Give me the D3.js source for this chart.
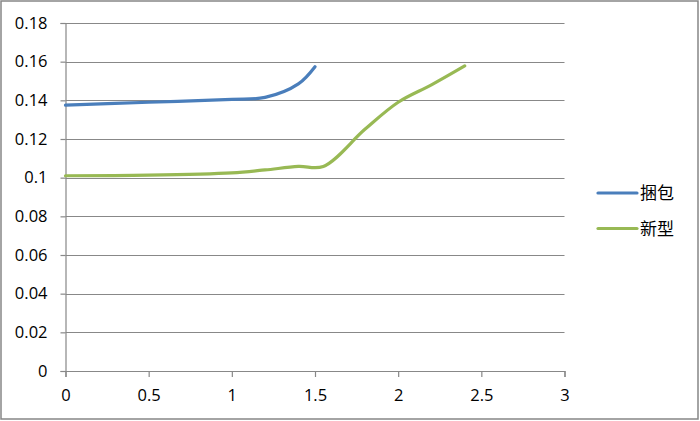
<!DOCTYPE html>
<html><head><meta charset="utf-8">
<script src="https://cdn.jsdelivr.net/npm/d3@7"></script>
<style>body{margin:0;background:#fff}svg{display:block}</style>
</head><body>
<svg id="c" width="700" height="421"></svg>
<script>
const seriesNames = ["捆包", "新型"];
const seriesColors = ["#4A7EBB", "#98B954"];
const x1 = [0, 0.5, 1.0, 1.2, 1.4, 1.5];
const y1 = [0.1375, 0.1390, 0.1405, 0.1415, 0.1485, 0.1574];
const x2 = [0, 0.5, 1.0, 1.2, 1.4, 1.55, 1.8, 2.0, 2.2, 2.4];
const y2 = [0.1010, 0.1013, 0.1025, 0.1040, 0.1058, 0.1058, 0.1250, 0.1390, 0.1480, 0.1578];
const xTicks = [0, 0.5, 1, 1.5, 2, 2.5, 3];
const yTicks = [0, 0.02, 0.04, 0.06, 0.08, 0.1, 0.12, 0.14, 0.16, 0.18];

const svg = d3.select("#c");
const font = "'Open Sans', 'Noto Sans', sans-serif";
svg.append("rect").attr("x",1).attr("y",1).attr("width",697).attr("height",418)
  .attr("fill","#fff").attr("stroke","#868686").attr("stroke-width",1.5);

const x = d3.scaleLinear().domain([0,3]).range([65.5,564.5]);
const y = d3.scaleLinear().domain([0,0.18]).range([371,23]);

svg.append("g").selectAll("line").data(yTicks.filter(d=>d>0)).join("line")
  .attr("x1",x(0)).attr("x2",x(3))
  .attr("y1",d=>Math.round(y(d))+0.5).attr("y2",d=>Math.round(y(d))+0.5)
  .attr("stroke","#888").attr("stroke-width",1.2);

const ya = svg.append("g").attr("transform",`translate(${x(0)},0)`)
  .call(d3.axisLeft(y).tickValues(yTicks).tickSize(5).tickPadding(13)
    .tickFormat(d=>d3.format("")(+d.toFixed(2))));
const xa = svg.append("g").attr("transform",`translate(0,${y(0)})`)
  .call(d3.axisBottom(x).tickValues(xTicks).tickSize(6).tickPadding(12)
    .tickFormat(d=>d3.format("")(d)));
[ya,xa].forEach(a=>{
  a.selectAll("path,line").attr("stroke","#888").attr("stroke-width",1.2);
  a.selectAll("text").attr("font-family",font).attr("font-size",16.5).attr("fill","#000");
});

const line = d3.line().x(d=>x(d[0])).y(d=>y(d[1])).curve(d3.curveCatmullRom.alpha(0.5));
const data = [x1.map((v,i)=>[v,y1[i]]), x2.map((v,i)=>[v,y2[i]])];
svg.append("g").selectAll("path").data(data).join("path")
  .attr("d",line).attr("fill","none")
  .attr("stroke",(d,i)=>seriesColors[i]).attr("stroke-width",3.2)
  .attr("stroke-linecap","round");

const lg = svg.append("g").selectAll("g").data(seriesNames).join("g")
  .attr("transform",(d,i)=>`translate(598,${193+i*35.5})`);
lg.append("line").attr("x1",0).attr("x2",39).attr("y1",0).attr("y2",0)
  .attr("stroke",(d,i)=>seriesColors[i]).attr("stroke-width",3.2).attr("stroke-linecap","round");
lg.append("text").attr("x",42).attr("y",0).attr("dy","0.36em")
  .attr("font-family","'Noto Sans CJK SC', sans-serif").attr("font-size",17).attr("fill","#000")
  .text(d=>d);
</script>
</body></html>
